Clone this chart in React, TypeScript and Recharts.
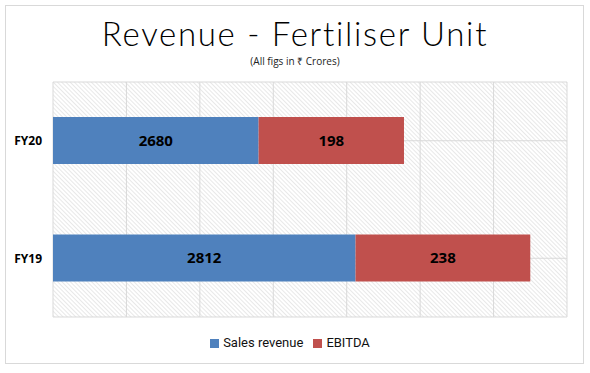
import { BarChart, Bar, XAxis, YAxis, CartesianGrid, Legend, LabelList } from "recharts";

const years = ["FY20", "FY19"];
const salesRevenue = [2680, 2812];
const ebitda = [198, 238];
const axisTicks = [2400, 2500, 2600, 2700, 2800, 2900, 3000, 3100];

const BLUE = "#4f81bd";
const RED = "#c0504d";

const rows = years.map((name, i) => ({
  name,
  sales: salesRevenue[i],
  ebitda: ebitda[i],
  salesRange: [axisTicks[0], salesRevenue[i]],
  ebitdaRange: [salesRevenue[i], salesRevenue[i] + ebitda[i]],
}));

const labelStyle = { fill: "#000", fontWeight: 700, fontSize: 15, fontFamily: "Open Sans, sans-serif" };

const legendOrder = ["Sales revenue", "EBITDA"];

const App = () => {
  return (
    <div style={{ position: "absolute", left: 0, top: 0, width: 590, height: 373, background: "#fff" }}>
      <div
        style={{
          position: "absolute",
          left: 5,
          top: 5,
          width: 577,
          height: 357,
          border: "1px solid #d9d9d9",
        }}
      />
      <div
        style={{
          position: "absolute",
          left: 0,
          top: 19,
          width: 590,
          textAlign: "center",
          fontFamily: "Lato, sans-serif",
          fontWeight: 300,
          fontSize: 33,
          lineHeight: "29px",
          letterSpacing: 1.7,
          color: "#000",
        }}
      >
        Revenue - Fertiliser Unit
      </div>
      <div
        style={{
          position: "absolute",
          left: 0,
          top: 54,
          width: 590,
          textAlign: "center",
          fontFamily: "Open Sans, sans-serif",
          fontSize: 10,
          lineHeight: "14px",
          color: "#222",
        }}
      >
        (All figs in ₹ Crores)
      </div>
      <div style={{ position: "absolute", left: 0, top: 0 }}>
        <BarChart
          width={590}
          height={373}
          data={rows}
          layout="vertical"
          barSize={47}
          barGap={-47}
          margin={{ top: 82, right: 23, bottom: 56, left: 0 }}
        >
          <defs>
            <pattern id="hatch" width="3" height="3" patternUnits="userSpaceOnUse" patternTransform="rotate(-45)">
              <rect width="3" height="3" fill="#fff" />
              <line x1="0" y1="0" x2="0" y2="3" stroke="#d2d2d2" strokeWidth="1" />
            </pattern>
          </defs>
          <CartesianGrid fill="url(#hatch)" stroke="#d9d9d9" strokeWidth={1} />
          <XAxis
            type="number"
            domain={[axisTicks[0], axisTicks[axisTicks.length - 1]]}
            ticks={axisTicks}
            allowDataOverflow
            hide
          />
          <YAxis
            type="category"
            dataKey="name"
            width={53}
            axisLine={false}
            tickLine={false}
            tickSize={0}
            tickMargin={11}
            tick={{ fill: "#000", fontWeight: 700, fontSize: 12, fontFamily: "Open Sans, sans-serif" }}
          />
          <Legend
            layout="horizontal"
            verticalAlign="middle"
            align="center"
            iconType="square"
            iconSize={9}
            itemSorter={(item: any) => legendOrder.indexOf(item.value)}
            wrapperStyle={{ top: 335, left: 0, width: 590, fontFamily: "Roboto, sans-serif", fontSize: 13 }}
            formatter={(v) => <span style={{ color: "#111" }}>{v}</span>}
          />
          <Bar dataKey="salesRange" name="Sales revenue" fill={BLUE} isAnimationActive={false}>
            <LabelList dataKey="sales" position="center" style={labelStyle} />
          </Bar>
          <Bar dataKey="ebitdaRange" name="EBITDA" fill={RED} isAnimationActive={false}>
            <LabelList dataKey="ebitda" position="center" style={labelStyle} />
          </Bar>
        </BarChart>
      </div>
    </div>
  );
};

export default App;
